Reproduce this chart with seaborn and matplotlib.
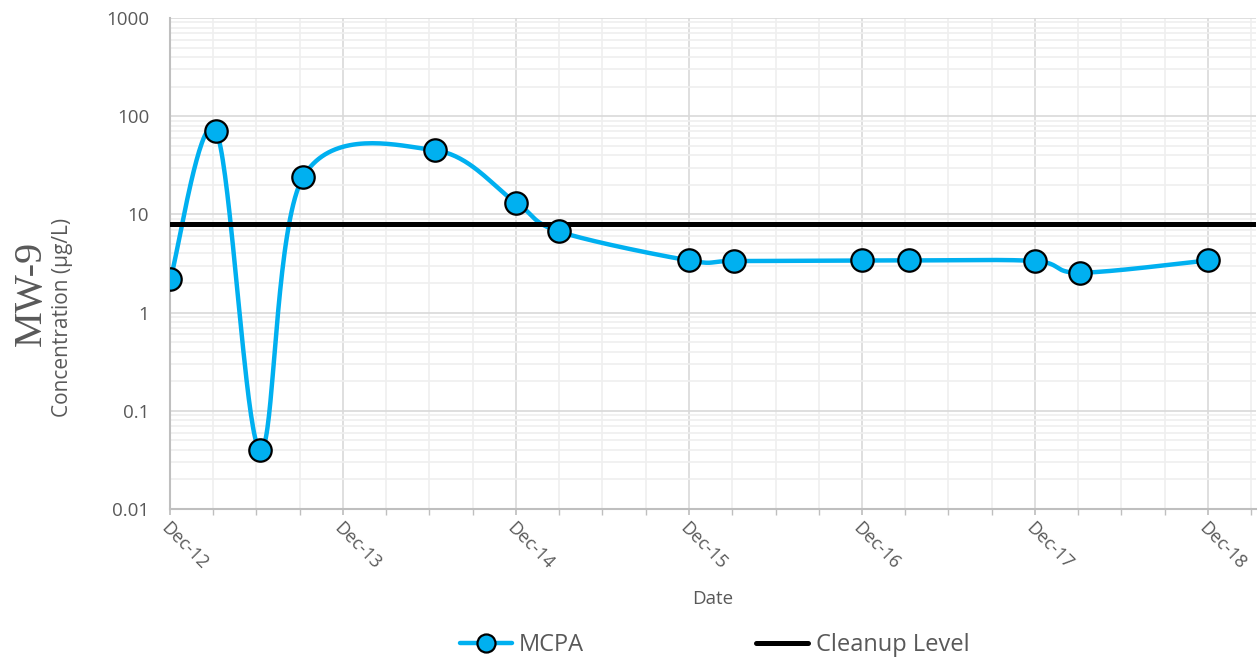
import matplotlib
matplotlib.use("Agg")
import matplotlib.pyplot as plt
import matplotlib.dates as mdates
from matplotlib.lines import Line2D
from matplotlib.ticker import FixedLocator, LogLocator, NullFormatter
import seaborn as sns
import numpy as np
import pandas as pd

# sample data
sample_dates = ['2012-12-02', '2013-03-08', '2013-06-09', '2013-09-08', '2014-06-13',
                '2014-12-01', '2015-03-02', '2015-12-01', '2016-03-05', '2016-12-01',
                '2017-03-10', '2017-12-01', '2018-03-06', '2018-12-01']
mcpa = [2.2, 71, 0.04, 24, 45, 13.2, 6.7, 3.4, 3.35, 3.4, 3.4, 3.35, 2.55, 3.4]
cleanup_level = 8.0
y_ticks = [0.01, 0.1, 1, 10, 100, 1000]
y_tick_labels = ['0.01', '0.1', '1', '10', '100', '1000']

df = pd.DataFrame({'date': pd.to_datetime(sample_dates), 'mcpa': mcpa})

# smoothed line like Excel (Catmull-Rom in screen space = date num / log10 y)
xs = mdates.date2num(df['date'])
ys = np.log10(df['mcpa'].values)
px = np.concatenate([[xs[0]], xs, [xs[-1]]])
py = np.concatenate([[ys[0]], ys, [ys[-1]]])
sx, sy = [], []
t = np.linspace(0, 1, 40)
for i in range(1, len(px) - 2):
    p0, p1, p2, p3 = px[i - 1], px[i], px[i + 1], px[i + 2]
    q0, q1, q2, q3 = py[i - 1], py[i], py[i + 1], py[i + 2]
    c1x, c1y = p1 + (p2 - p0) / 6, q1 + (q2 - q0) / 6
    c2x, c2y = p2 - (p3 - p1) / 6, q2 - (q3 - q1) / 6
    bx = (1 - t) ** 3 * p1 + 3 * (1 - t) ** 2 * t * c1x + 3 * (1 - t) * t ** 2 * c2x + t ** 3 * p2
    by = (1 - t) ** 3 * q1 + 3 * (1 - t) ** 2 * t * c1y + 3 * (1 - t) * t ** 2 * c2y + t ** 3 * q2
    sx.extend(bx)
    sy.extend(by)
smooth = pd.DataFrame({'date': mdates.num2date(np.array(sx)), 'val': 10 ** np.array(sy)})

sns.set_theme(style='white')
plt.rcParams['font.family'] = ['Open Sans', 'DejaVu Sans']

blue = '#00B0F0'
grey_txt = '#595959'

fig = plt.figure(figsize=(12.58, 6.62), dpi=100)
ax = fig.add_axes([0.1351, 0.2311, 0.8633, 0.7417])

sns.lineplot(data=smooth, x='date', y='val', color=blue, linewidth=3.2, ax=ax,
             sort=False, zorder=3)
ax.axhline(cleanup_level, color='black', linewidth=3.6, zorder=4)
sns.scatterplot(data=df, x='date', y='mcpa', color=blue, s=260, edgecolor='black',
                linewidth=1.6, ax=ax, zorder=5)

ax.set_yscale('log')
ax.set_ylim(0.01, 1000)
ax.set_xlim(pd.Timestamp('2012-12-01'), pd.Timestamp('2019-03-12'))
ax.yaxis.set_major_locator(FixedLocator(y_ticks))
ax.set_yticklabels(y_tick_labels)
ax.yaxis.set_minor_locator(LogLocator(base=10, subs=np.arange(2, 10)))
ax.yaxis.set_minor_formatter(NullFormatter())

ax.xaxis.set_major_locator(mdates.MonthLocator(bymonth=12))
ax.xaxis.set_major_formatter(mdates.DateFormatter('%b-%y'))
ax.xaxis.set_minor_locator(mdates.MonthLocator(bymonth=[3, 6, 9]))

ax.grid(which='major', color='#d9d9d9', linewidth=1.2)
ax.grid(which='minor', color='#efefef', linewidth=1.2)
ax.set_axisbelow(True)

for s in ['top', 'right']:
    ax.spines[s].set_visible(False)
for s in ['left', 'bottom']:
    ax.spines[s].set_color('#bfbfbf')
    ax.spines[s].set_linewidth(1.5)

ax.tick_params(axis='y', which='both', length=0, labelsize=13.5, labelcolor=grey_txt, pad=15)
ax.tick_params(axis='x', which='both', length=4, color='#bfbfbf', labelsize=13,
               labelcolor=grey_txt, bottom=True)
for lbl in ax.get_xticklabels():
    lbl.set_rotation(-45)
    lbl.set_ha('left')
    lbl.set_va('top')
    lbl.set_rotation_mode('anchor')

ax.set_xlabel('Date', fontsize=13.5, color=grey_txt, labelpad=12)
ax.set_ylabel('Concentration (µg/L)', fontsize=15, color=grey_txt)
ax.yaxis.set_label_coords(-0.089, 0.39)
fig.text(0.025, 0.556, 'MW-9', rotation=90, ha='center', va='center', fontsize=29,
         color=grey_txt, family=['Liberation Serif', 'DejaVu Serif'])

handles = [
    Line2D([], [], color=blue, linewidth=3.2, marker='o', markersize=13,
           markerfacecolor=blue, markeredgecolor='black', markeredgewidth=1.6),
    Line2D([], [], color='black', linewidth=3.6),
]
fig.legend(handles, ['MCPA', 'Cleanup Level'], loc='center', bbox_to_anchor=(0.568, 0.026),
           ncol=2, frameon=False, columnspacing=7.3, handlelength=2.2, handletextpad=0.3,
           prop={'size': 17}, labelcolor=grey_txt)

fig.savefig('out.png', dpi=100)
